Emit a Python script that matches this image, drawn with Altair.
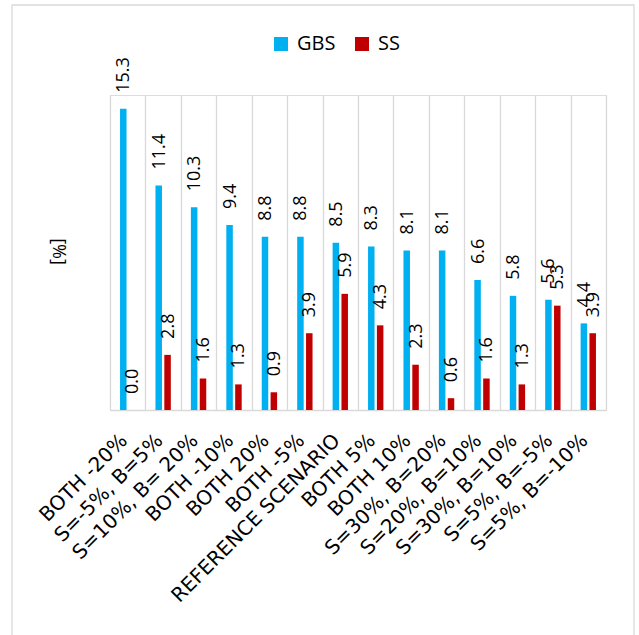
import altair as alt
import pandas as pd

categories = ["BOTH -20%", "S=-5%, B=5%", "S=10%, B= 20%", "BOTH -10%", "BOTH 20%",
              "BOTH -5%", "REFERENCE SCENARIO", "BOTH 5%", "BOTH 10%", "S=30%, B=20%",
              "S=20%, B=10%", "S=30%, B=10%", "S=5%, B=-5%", "S=5%, B=-10%"]
gbs = [15.3, 11.4, 10.3, 9.4, 8.8, 8.8, 8.5, 8.3, 8.1, 8.1, 6.6, 5.8, 5.6, 4.4]
ss = [0.0, 2.8, 1.6, 1.3, 0.9, 3.9, 5.9, 4.3, 2.3, 0.6, 1.6, 1.3, 5.3, 3.9]
series = ["GBS", "SS"]
colors = ["#00B0F0", "#C00000"]

rows = []
for c, g, s in zip(categories, gbs, ss):
    rows.append({"scenario": c, "series": "GBS", "value": g})
    rows.append({"scenario": c, "series": "SS", "value": s})
df = pd.DataFrame(rows)

W, H = 496, 315
FONT = "Open Sans"
GRID = "#D9D9D9"

x_enc = alt.X(
    "scenario:N", sort=categories,
    scale=alt.Scale(paddingInner=0, paddingOuter=0),
    axis=alt.Axis(title=None, labelAngle=-45, labelAlign="right", labelBaseline="middle",
                  labelPadding=27, labelOffset=-4, ticks=False, tickSize=0,
                  tickBand="extent", grid=True, gridColor=GRID, gridWidth=1.3,
                  domain=True, domainColor=GRID, domainWidth=1.3,
                  labelFont="DejaVu Sans", labelFontSize=20, labelColor="#000000",
                  labelLimit=400, labelOverlap=False),
)
xo_enc = alt.XOffset("series:N", sort=series,
                     scale=alt.Scale(paddingInner=0, paddingOuter=1))
y_enc = alt.Y(
    "value:Q", scale=alt.Scale(domain=[0, 16], nice=False, zero=True),
    axis=alt.Axis(title="[%]", labels=False, ticks=False, domain=False, grid=False,
                  titleFont=FONT, titleFontSize=18, titleFontWeight="normal",
                  titleColor="#000000", titleAngle=90, titleX=-53, titleY=156,
                  titleAlign="center", titleBaseline="middle"),
)

base = alt.Chart(df)

bars = base.mark_bar(width=6.5).encode(
    x=x_enc, xOffset=xo_enc, y=y_enc,
    color=alt.Color("series:N", sort=series,
                    scale=alt.Scale(domain=series, range=colors),
                    legend=alt.Legend(title=None, orient="none", legendX=161, legendY=-61,
                                      direction="horizontal", symbolType="square",
                                      symbolSize=196, symbolStrokeWidth=0,
                                      labelFont=FONT, labelFontSize=20, labelOffset=6,
                                      columnPadding=16, labelColor="#000000", padding=0)),
)

labels = base.mark_text(angle=270, align="left", baseline="middle", dx=16, dy=1,
                        font=FONT, fontSize=18, color="#000000").encode(
    x=x_enc, xOffset=xo_enc, y=y_enc,
    text=alt.Text("value:Q", format=".1f"),
)

frame = alt.Chart(alt.Data(values=[{"f": 1}])).mark_rect(
    fillOpacity=0, stroke=GRID, strokeWidth=1.3
).encode(x=alt.value(-98), x2=alt.value(524), y=alt.value(-90), y2=alt.value(545))

chart = alt.layer(frame, bars, labels).properties(
    width=W, height=H,
    padding={"left": 110, "top": 95, "right": 33, "bottom": 225},
    autosize=alt.AutoSizeParams(type="none"),
).configure_view(stroke=None).configure(background="white")

chart.save("out.html", embed_options={"renderer": "svg", "actions": False})
